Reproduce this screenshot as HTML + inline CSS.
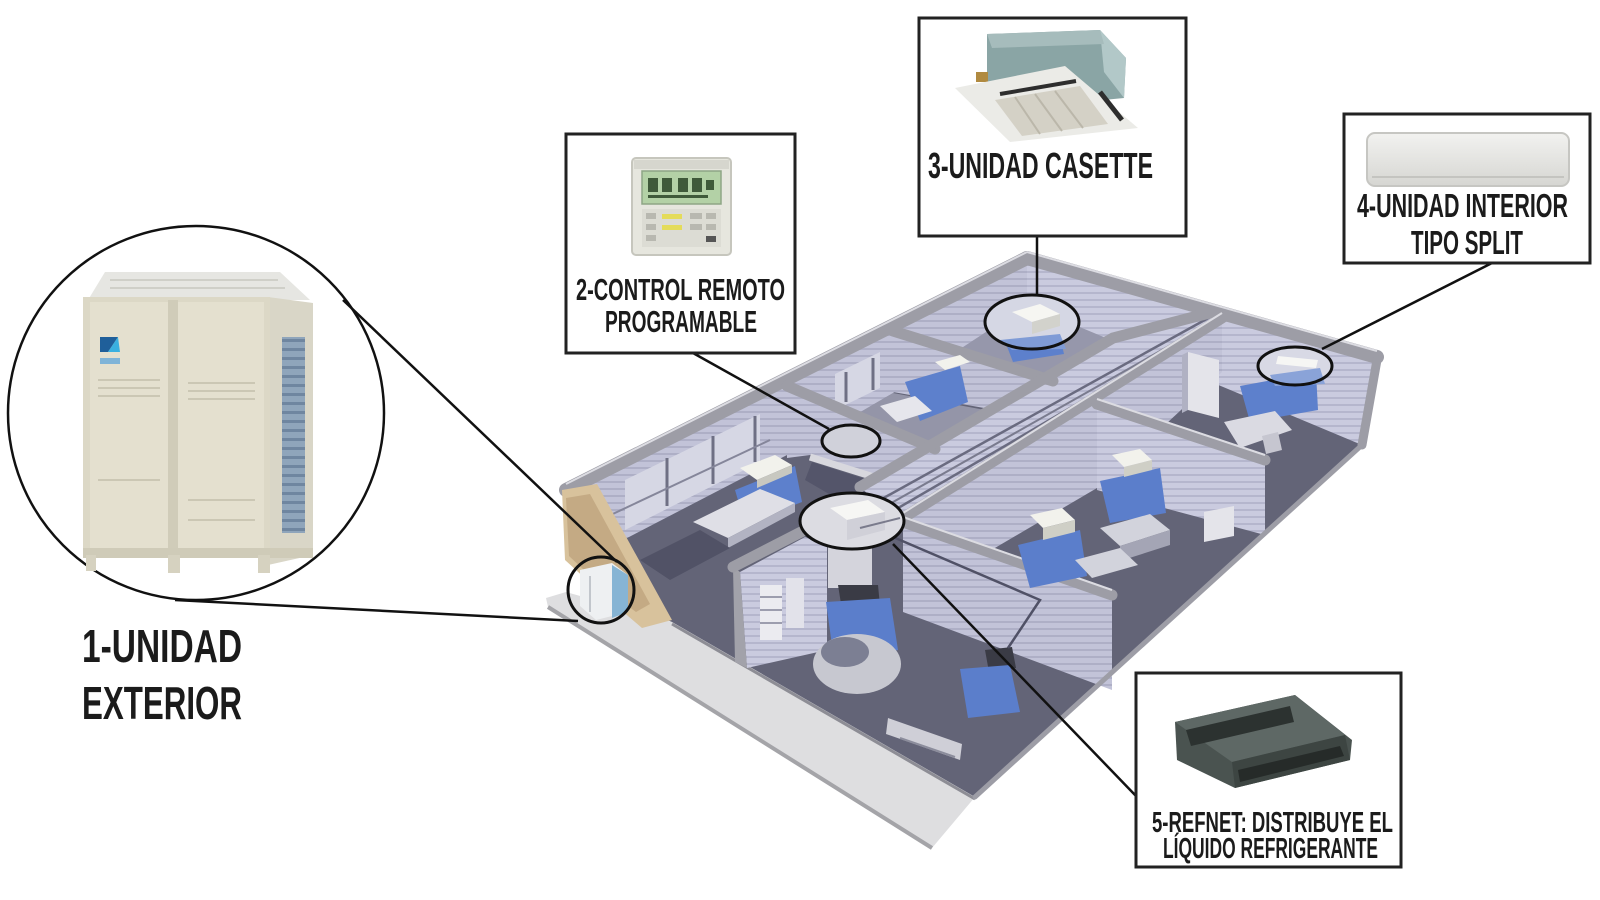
<!DOCTYPE html>
<html><head><meta charset="utf-8">
<style>
html,body{margin:0;padding:0;background:#fff;}
svg{display:block;}
.lbl{font-family:"Liberation Sans Narrow","Liberation Sans",sans-serif;fill:#1b1b1b;}
</style></head>
<body>
<svg width="1600" height="900" viewBox="0 0 1600 900" xmlns="http://www.w3.org/2000/svg">
<defs>
  <pattern id="st" width="10" height="7" patternUnits="userSpaceOnUse">
    <rect width="10" height="7" fill="#c2c3d8"/>
    <rect y="5" width="10" height="2" fill="#aeafc6"/>
  </pattern>
  <pattern id="st2" width="10" height="7" patternUnits="userSpaceOnUse">
    <rect width="10" height="7" fill="#cacbdf"/>
    <rect y="5" width="10" height="2" fill="#b5b6cd"/>
  </pattern>
  <pattern id="coil" width="10" height="9" patternUnits="userSpaceOnUse">
    <rect width="10" height="9" fill="#8fa5bb"/>
    <rect y="6" width="10" height="3" fill="#6f86a0"/>
  </pattern>
  <linearGradient id="split" x1="0" y1="0" x2="0" y2="1">
    <stop offset="0" stop-color="#f2f2f0"/>
    <stop offset="1" stop-color="#d6d6d2"/>
  </linearGradient>
</defs>

<rect width="1600" height="900" fill="#fff"/>

<!-- ================= BUILDING ================= -->
<polygon points="546,598 566,592 672,622 975,797 932,848 548,607" fill="#dedee0"/>
<line x1="548" y1="607" x2="932" y2="848" stroke="#a4a4a8" stroke-width="4"/>
<line x1="672" y1="624" x2="975" y2="799" stroke="#8d8d95" stroke-width="3"/>

<polygon points="566,492 1027,258 1377,357 1362,445 975,797 672,622 600,592 575,565" fill="#636477"/>

<polygon points="787,455 893,393 1050,422 940,452" fill="#9495a8"/>
<polygon points="940,355 1027,305 1112,340 1053,382" fill="#9697ab"/>

<polygon points="573,492 1027,262 1027,305 893,393 787,455 575,565" fill="url(#st)"/>
<polygon points="1027,262 1375,360 1362,445 1027,305" fill="url(#st2)"/>

<!-- room A windows -->
<polygon points="625,480 760,414 760,462 625,530" fill="#d6d7e4"/>
<line x1="667" y1="458" x2="667" y2="506" stroke="#6f7084" stroke-width="3"/>
<line x1="713" y1="436" x2="713" y2="484" stroke="#6f7084" stroke-width="3"/>
<line x1="755" y1="416" x2="755" y2="462" stroke="#6f7084" stroke-width="3"/>
<line x1="600" y1="520" x2="770" y2="440" stroke="#85869a" stroke-width="2"/>
<!-- room B windows -->
<polygon points="835,374 880,352 880,388 835,410" fill="#d6d7e4"/>
<line x1="846" y1="372" x2="846" y2="402" stroke="#6f7084" stroke-width="3"/>
<line x1="873" y1="358" x2="873" y2="390" stroke="#6f7084" stroke-width="3"/>

<polygon points="787,388 935,450 893,480 810,455 787,458" fill="url(#st)"/>
<line x1="810" y1="457" x2="893" y2="483" stroke="#d8d8de" stroke-width="7"/>
<polygon points="812,462 893,488 900,500 860,512 805,480" fill="#54556a"/>
<polygon points="893,333 1053,385 1053,420 893,392" fill="url(#st)"/>

<!-- corridor -->
<polygon points="860,488 1113,338 1217,310 1222,318 903,518" fill="url(#st2)"/>
<line x1="880" y1="500" x2="1212" y2="316" stroke="#6a6b80" stroke-width="2.5"/>
<line x1="886" y1="506" x2="1215" y2="320" stroke="#7a7b8e" stroke-width="2"/>
<line x1="893" y1="511" x2="1218" y2="322" stroke="#6a6b80" stroke-width="2.5"/>

<polygon points="903,523 1222,320 1222,372 1097,488 903,602" fill="url(#st)"/>
<polygon points="1097,408 1265,464 1265,535 1097,490" fill="url(#st2)"/>
<polygon points="903,524 1112,597 1112,690 903,612" fill="url(#st)"/>
<polygon points="740,572 805,537 827,545 827,650 747,668" fill="url(#st2)"/>
<rect x="760" y="585" width="22" height="55" fill="#ebebf0"/>
<line x1="760" y1="597" x2="782" y2="597" stroke="#9c9dae" stroke-width="2"/>
<line x1="760" y1="610" x2="782" y2="610" stroke="#9c9dae" stroke-width="2"/>
<line x1="760" y1="623" x2="782" y2="623" stroke="#9c9dae" stroke-width="2"/>
<rect x="786" y="578" width="18" height="50" fill="#e2e2ea"/>
<polygon points="733,567 740,572 747,668 735,662" fill="#a2a2aa"/>

<!-- top bands -->
<g stroke="#9d9da6" stroke-linecap="round" fill="none">
  <line x1="566" y1="490" x2="1027" y2="258" stroke-width="14"/>
  <line x1="1027" y1="258" x2="1377" y2="357" stroke-width="14"/>
  <line x1="787" y1="386" x2="935" y2="449" stroke-width="11"/>
  <line x1="893" y1="331" x2="1053" y2="381" stroke-width="11"/>
  <polyline points="860,487 1113,338 1217,311" stroke-width="11"/>
  <line x1="903" y1="518" x2="1222" y2="318" stroke-width="11"/>
  <line x1="733" y1="567" x2="805" y2="530" stroke-width="11"/>
  <line x1="1097" y1="404" x2="1265" y2="460" stroke-width="11"/>
  <line x1="903" y1="522" x2="1112" y2="595" stroke-width="11"/>
  <line x1="1377" y1="360" x2="1362" y2="445" stroke-width="9"/>
  <line x1="1362" y1="445" x2="975" y2="797" stroke-width="5"/>
</g>
<g stroke="#dcdce2" stroke-width="2" fill="none">
  <line x1="566" y1="484" x2="1027" y2="252"/>
  <line x1="1027" y1="252" x2="1377" y2="351"/>
  <line x1="903" y1="513" x2="1222" y2="313"/>
  <line x1="903" y1="517" x2="1112" y2="590"/>
  <line x1="1097" y1="399" x2="1265" y2="455"/>
</g>

<!-- tan end wall -->
<polygon points="562,490 597,484 672,620 642,628 600,592 565,560" fill="#d8c29c"/>
<polygon points="566,498 590,494 650,604 636,612 600,585 569,556" fill="#c4aa84"/>

<!-- ===== furniture ===== -->
<polygon points="735,490 795,466 802,502 745,524" fill="#5d80cc"/>
<polygon points="693,522 760,489 795,503 728,538" fill="#dfdfe6"/>
<polygon points="728,538 795,503 795,512 728,548" fill="#b2b3c2"/>
<polygon points="740,468 775,455 792,465 757,480" fill="#f2f2ec"/>
<polygon points="757,480 792,465 792,473 757,488" fill="#c8c8c0"/>
<polygon points="640,560 700,530 730,548 670,580" fill="#515266"/>
<polygon points="905,382 960,366 968,402 920,421" fill="#5d80cc"/>
<polygon points="880,406 915,396 932,411 897,422" fill="#e6e6ec"/>
<polygon points="935,362 960,355 970,362 945,370" fill="#f2f2ec"/>
<polygon points="1003,336 1058,328 1064,354 1013,362" fill="#5d80cc"/>
<polygon points="1188,352 1219,360 1219,418 1188,410" fill="#e4e4ea"/>
<polygon points="1182,355 1188,352 1188,410 1182,413" fill="#b0b1c3"/>
<polygon points="1240,386 1316,372 1318,410 1250,422" fill="#5d80cc"/>
<polygon points="1224,422 1275,411 1292,430 1240,448" fill="#dadae2"/>
<polygon points="1262,436 1278,432 1282,450 1266,454" fill="#c6c6d0"/>
<polygon points="1018,545 1080,530 1087,576 1030,588" fill="#5b7ecb"/>
<polygon points="1030,515 1062,508 1075,520 1043,528" fill="#f2f2ec"/>
<polygon points="1043,528 1075,520 1075,532 1043,540" fill="#cfcfc6"/>
<polygon points="1100,481 1160,468 1166,513 1110,523" fill="#5b7ecb"/>
<polygon points="1112,455 1140,449 1152,460 1124,467" fill="#f2f2ec"/>
<polygon points="1124,467 1152,460 1152,470 1124,477" fill="#cfcfc6"/>
<polygon points="1100,528 1150,514 1170,530 1120,546" fill="#d2d3dc"/>
<polygon points="1120,546 1170,530 1170,545 1120,561" fill="#a4a5b5"/>
<polygon points="1075,560 1120,548 1138,565 1092,578" fill="#d2d3dc"/>
<polygon points="1204,512 1234,506 1234,536 1204,542" fill="#e4e4ea"/>
<rect x="828" y="522" width="44" height="66" fill="#d4d4dc"/>
<polygon points="838,585 878,585 880,606 842,610" fill="#3a3b45"/>
<polygon points="826,602 890,598 898,650 834,660" fill="#5b7ecb"/>
<ellipse cx="857" cy="664" rx="44" ry="30" fill="#c7c8d0"/>
<ellipse cx="845" cy="652" rx="24" ry="15" fill="#7c7f93"/>
<polygon points="985,650 1012,647 1016,668 989,672" fill="#3a3b45"/>
<polygon points="960,669 1010,665 1020,712 968,718" fill="#5b7ecb"/>
<polygon points="888,718 962,744 960,760 886,734" fill="#cfcfd7"/>
<line x1="900" y1="738" x2="955" y2="757" stroke="#8c8d9c" stroke-width="2"/>
<polyline points="893,537 1040,600 1008,648" fill="none" stroke="#505166" stroke-width="2.5"/>

<!-- small outdoor unit -->
<polygon points="580,570 612,563 628,575 628,612 596,620 580,606" fill="#eef0f2"/>
<polygon points="612,565 628,575 628,612 612,618" fill="#86b4d4"/>
<line x1="590" y1="576" x2="590" y2="612" stroke="#c2c6cc" stroke-width="2"/>

<!-- ===== highlight ellipses ===== -->
<ellipse cx="851" cy="441" rx="29" ry="16" fill="#d0d1da"/>
<ellipse cx="851" cy="441" rx="29" ry="16" fill="none" stroke="#111" stroke-width="3"/>

<ellipse cx="852" cy="521" rx="52" ry="28" fill="#dcdce2"/>
<polygon points="830,508 868,500 885,512 847,520" fill="#f6f6f4"/>
<polygon points="847,520 885,512 885,530 847,540" fill="#d0d0d8"/>
<line x1="860" y1="528" x2="900" y2="518" stroke="#7a7b8c" stroke-width="2"/>
<ellipse cx="852" cy="521" rx="52" ry="28" fill="none" stroke="#111" stroke-width="3"/>

<ellipse cx="1032" cy="322" rx="47" ry="27" fill="#d5d7e4"/>
<polygon points="1000,340 1060,334 1066,349 1012,350" fill="#7f9bd6"/>
<polygon points="1012,312 1040,304 1060,314 1032,322" fill="#f6f6f2"/>
<polygon points="1032,322 1060,314 1060,326 1032,334" fill="#d2d2cc"/>
<ellipse cx="1032" cy="322" rx="47" ry="27" fill="none" stroke="#111" stroke-width="3"/>

<ellipse cx="1295" cy="366" rx="37" ry="19" fill="#d8d9e5"/>
<polygon points="1270,375 1320,368 1325,384 1275,386" fill="#8aa3d8"/>
<polygon points="1278,356 1318,360 1316,368 1276,364" fill="#f6f6f4"/>
<ellipse cx="1295" cy="366" rx="37" ry="19" fill="none" stroke="#111" stroke-width="3"/>

<ellipse cx="601" cy="590" rx="33" ry="33" fill="none" stroke="#111" stroke-width="3"/>

<!-- ================= BIG CIRCLE + OUTDOOR UNIT ================= -->
<ellipse cx="196" cy="413" rx="188" ry="187" fill="none" stroke="#111" stroke-width="2.5"/>
<polygon points="105,272 280,272 310,300 88,300" fill="#e6e6e2"/>
<g stroke="#cfcfc8" stroke-width="2">
  <line x1="110" y1="280" x2="278" y2="280"/>
  <line x1="110" y1="288" x2="285" y2="288"/>
</g>
<polygon points="268,297 313,303 313,555 268,565" fill="#d9d6c7"/>
<rect x="282" y="337" width="23" height="196" fill="url(#coil)"/>
<rect x="83" y="297" width="187" height="258" fill="#dcd8c6"/>
<rect x="90" y="302" width="78" height="250" fill="#e4e0cf"/>
<rect x="178" y="302" width="86" height="256" fill="#e4e0cf"/>
<rect x="168" y="300" width="10" height="265" fill="#d0ccb9"/>
<g stroke="#cbc7b4" stroke-width="2">
  <line x1="98" y1="380" x2="160" y2="380"/>
  <line x1="98" y1="388" x2="160" y2="388"/>
  <line x1="98" y1="396" x2="160" y2="396"/>
  <line x1="188" y1="383" x2="255" y2="383"/>
  <line x1="188" y1="391" x2="255" y2="391"/>
  <line x1="188" y1="399" x2="255" y2="399"/>
  <line x1="98" y1="480" x2="160" y2="480"/>
  <line x1="188" y1="500" x2="255" y2="500"/>
  <line x1="188" y1="520" x2="255" y2="520"/>
</g>
<polygon points="100,337 118,337 108,352 100,352" fill="#1f5f9a"/>
<polygon points="108,352 118,337 120,352" fill="#3ab0e0"/>
<rect x="100" y="358" width="20" height="6" fill="#7fb4d8"/>
<rect x="83" y="548" width="230" height="10" fill="#cfcbb8"/>
<rect x="86" y="555" width="10" height="16" fill="#d6d2c0"/>
<rect x="168" y="555" width="12" height="18" fill="#d6d2c0"/>
<rect x="258" y="555" width="12" height="18" fill="#d6d2c0"/>

<!-- connectors -->
<g stroke="#111" stroke-width="2.5" fill="none">
  <line x1="343" y1="300" x2="617" y2="562"/>
  <line x1="175" y1="600" x2="578" y2="621"/>
  <line x1="693" y1="353" x2="829" y2="429"/>
  <line x1="1037" y1="236" x2="1037" y2="295"/>
  <line x1="1492" y1="263" x2="1322" y2="349"/>
  <line x1="893" y1="544" x2="1136" y2="796"/>
</g>

<!-- ================= LABEL BOXES ================= -->
<g fill="#fff" stroke="#222" stroke-width="3">
  <rect x="566" y="134" width="229" height="219"/>
  <rect x="919" y="18" width="267" height="218"/>
  <rect x="1344" y="114" width="246" height="149"/>
  <rect x="1136" y="673" width="265" height="194"/>
</g>

<!-- remote control -->
<rect x="632" y="158" width="99" height="97" rx="4" fill="#e6e6de" stroke="#c6c6bd" stroke-width="2"/>
<rect x="634" y="160" width="95" height="9" fill="#d6d6ce"/>
<rect x="642" y="171" width="79" height="33" fill="#b3d1a6" stroke="#8ea585" stroke-width="1.5"/>
<g fill="#3f5a3a">
  <rect x="648" y="178" width="10" height="14"/>
  <rect x="662" y="178" width="10" height="14"/>
  <rect x="678" y="178" width="10" height="14"/>
  <rect x="692" y="178" width="10" height="14"/>
  <rect x="706" y="180" width="8" height="10"/>
  <rect x="648" y="195" width="60" height="3"/>
</g>
<rect x="642" y="209" width="79" height="38" fill="#dcdcd4"/>
<g fill="#b8b8b0">
  <rect x="646" y="213" width="10" height="6"/>
  <rect x="646" y="224" width="10" height="6"/>
  <rect x="646" y="235" width="10" height="6"/>
  <rect x="690" y="213" width="12" height="6"/>
  <rect x="706" y="213" width="10" height="6"/>
  <rect x="690" y="224" width="12" height="6"/>
  <rect x="706" y="224" width="10" height="6"/>
</g>
<rect x="662" y="214" width="20" height="5" fill="#e4dc5a"/>
<rect x="662" y="225" width="20" height="5" fill="#e4dc5a"/>
<rect x="706" y="236" width="10" height="6" fill="#555"/>

<!-- cassette unit -->
<polygon points="987,34 1100,30 1126,58 1124,98 1000,110 987,80" fill="#8aa5a5"/>
<polygon points="1100,30 1126,58 1124,98 1104,72" fill="#b2c8c8"/>
<polygon points="987,34 1100,30 1104,44 992,48" fill="#a6bcbc"/>
<rect x="976" y="72" width="12" height="10" fill="#b08a40"/>
<polygon points="955,88 1065,66 1138,128 1010,142" fill="#ebebe7"/>
<polygon points="995,100 1080,86 1108,124 1022,136" fill="#d4d1c6"/>
<g stroke="#bbb7aa" stroke-width="2">
  <line x1="1015" y1="97" x2="1040" y2="134"/>
  <line x1="1035" y1="94" x2="1062" y2="131"/>
  <line x1="1055" y1="91" x2="1083" y2="128"/>
</g>
<line x1="1000" y1="94" x2="1076" y2="81" stroke="#2e2e2e" stroke-width="4"/>
<line x1="1100" y1="92" x2="1122" y2="120" stroke="#2e2e2e" stroke-width="5"/>

<!-- split unit -->
<rect x="1367" y="133" width="202" height="53" rx="8" fill="url(#split)" stroke="#c6c6c2" stroke-width="2"/>
<line x1="1372" y1="177" x2="1564" y2="177" stroke="#c4c4c0" stroke-width="2"/>

<!-- duct unit -->
<polygon points="1175,722 1295,695 1352,740 1350,760 1235,788 1177,760" fill="#4a5350"/>
<polygon points="1175,722 1295,695 1345,735 1232,762" fill="#5e6865"/>
<polygon points="1186,730 1290,706 1294,722 1191,746" fill="#2c3230"/>
<polygon points="1232,762 1345,735 1350,760 1235,788" fill="#3d4542"/>
<polygon points="1238,770 1340,746 1344,756 1240,782" fill="#262b29"/>

<!-- ================= TEXT ================= -->
<text class="lbl" x="82" y="662" font-size="46" font-weight="bold" textLength="160" lengthAdjust="spacingAndGlyphs">1-UNIDAD</text>
<text class="lbl" x="82" y="719" font-size="46" font-weight="bold" textLength="160" lengthAdjust="spacingAndGlyphs">EXTERIOR</text>

<text class="lbl" x="576" y="300" font-size="31" font-weight="bold" textLength="209" lengthAdjust="spacingAndGlyphs">2-CONTROL REMOTO</text>
<text class="lbl" x="605" y="332" font-size="31" font-weight="bold" textLength="152" lengthAdjust="spacingAndGlyphs">PROGRAMABLE</text>

<text class="lbl" x="928" y="178" font-size="36" font-weight="bold" textLength="225" lengthAdjust="spacingAndGlyphs">3-UNIDAD CASETTE</text>

<text class="lbl" x="1357" y="217" font-size="33" font-weight="bold" textLength="211" lengthAdjust="spacingAndGlyphs">4-UNIDAD INTERIOR</text>
<text class="lbl" x="1411" y="254" font-size="33" font-weight="bold" textLength="112" lengthAdjust="spacingAndGlyphs">TIPO SPLIT</text>

<text class="lbl" x="1152" y="832" font-size="29" font-weight="bold" textLength="241" lengthAdjust="spacingAndGlyphs">5-REFNET: DISTRIBUYE EL</text>
<text class="lbl" x="1163" y="858" font-size="29" font-weight="bold" textLength="215" lengthAdjust="spacingAndGlyphs">LÍQUIDO REFRIGERANTE</text>
</svg>
</body></html>
